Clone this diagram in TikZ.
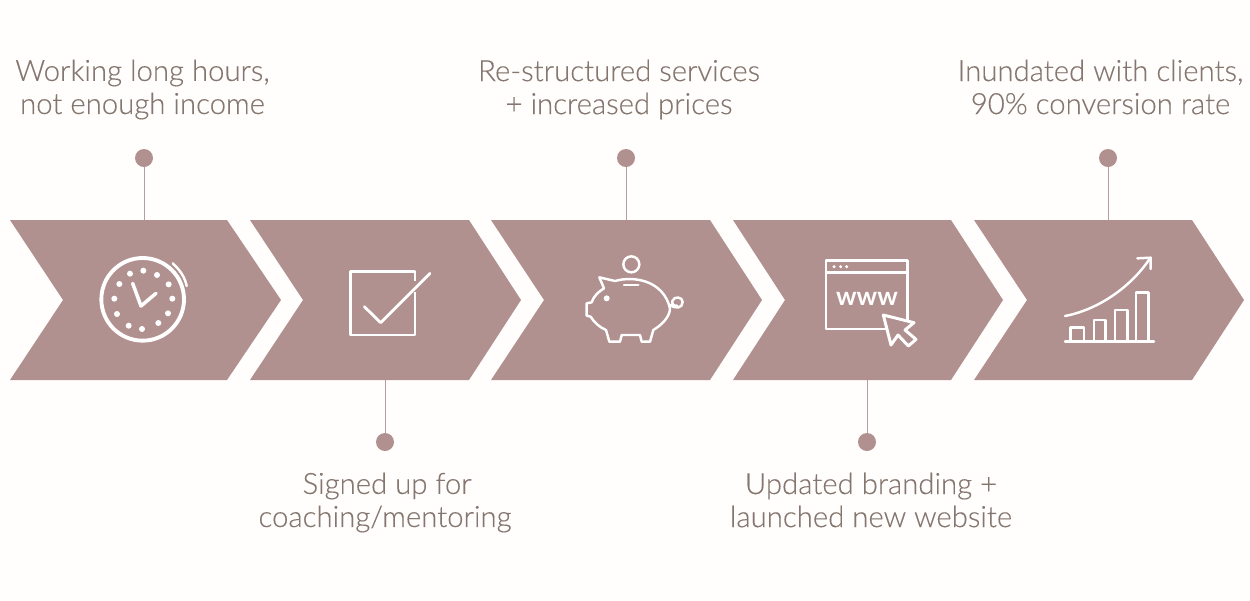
\documentclass[tikz,border=0pt]{standalone}
\usepackage{fontspec}
\setmainfont{Lato}[UprightFont=* Light,FakeBold=0.25]
\newfontfamily\wwwfont{Lato}[UprightFont=* Bold]
\definecolor{chev}{HTML}{B1918F}
\definecolor{txt}{HTML}{85766F}
\definecolor{bgc}{HTML}{FFFEFD}
\definecolor{lnk}{HTML}{B79E9C}
\tikzset{
  x=0.02cm,y=-0.02cm,
  chevron/.style={fill=chev,draw=none},
  dotnode/.style={circle,fill=chev,draw=none,minimum size=0.36cm,inner sep=0pt},
  label/.style={text=txt,align=center,inner sep=0pt,font=\fontsize{16.7}{18.8}\selectfont},
  link/.style={draw=lnk,line width=0.5pt},
  icon/.style={draw=white,line width=1.4pt,line join=round,line cap=round},
  iconthick/.style={draw=white,line width=2pt,line cap=round,line join=round},
  spot/.style={fill=white,draw=none},
}
\begin{document}
\begin{tikzpicture}
\useasboundingbox[fill=bgc] (0,0) rectangle (1250,600);
% chevrons
\fill[chevron] (10,220) -- (227,220) -- (281,300) -- (227,380) -- (10,380) -- (63,300) -- cycle;
\fill[chevron] (250,220) -- (469,220) -- (521,300) -- (469,380) -- (250,380) -- (303,300) -- cycle;
\fill[chevron] (491,220) -- (710,220) -- (762,300) -- (710,380) -- (491,380) -- (544,300) -- cycle;
\fill[chevron] (733,220) -- (951,220) -- (1003,300) -- (951,380) -- (733,380) -- (785,300) -- cycle;
\fill[chevron] (974,220) -- (1192,220) -- (1244,300) -- (1192,380) -- (974,380) -- (1027,300) -- cycle;
\coordinate (c1) at (144,220);
\coordinate (c2) at (385,380);
\coordinate (c3) at (626,220);
\coordinate (c4) at (867,380);
\coordinate (c5) at (1108,220);
% dots
\node[dotnode] (d1) at (144,158) {};
\node[dotnode] (d2) at (385,442) {};
\node[dotnode] (d3) at (626,158) {};
\node[dotnode] (d4) at (867,442) {};
\node[dotnode] (d5) at (1108,158) {};
\draw[link] (d1) -- (c1);
\draw[link] (d2) -- (c2);
\draw[link] (d3) -- (c3);
\draw[link] (d4) -- (c4);
\draw[link] (d5) -- (c5);
% labels
\node[label] (t1) at (142.5,89.5) {Working long hours,\\not enough income};
\node[label] (t2) at (385,502.5) {\hspace*{6\pgflinewidth}Signed up for\\coaching/mentoring};
\node[label] (t3) at (619,89.5) {Re-structured services\\+ increased prices};
\node[label] (t4) at (871,500) {Updated branding +\\launched new website};
\node[label] (t5) at (1100.5,87) {Inundated with clients,\\90\% conversion rate};
% clock
\begin{scope}[shift={(80,240)},scale=1/3]
\draw[iconthick,line width=2.2pt] (188,178) circle (124);
\draw[icon] (278,70) .. controls (300,90) and (315,112) .. (320,138);
\draw[iconthick] (158,130) -- (183,198) -- (228,160);
\foreach \p in {(190,92),(231,105),(266,133),(277,176),(264,220),(235,249),(186,267),(146,257),(111,222),(103,176),(118,132),(150,101)}
  \fill[spot] \p circle (9);
\end{scope}
% check
\begin{scope}[shift={(330,250)},scale=1/3]
\draw[icon,line cap=butt,line width=1.6pt] (255,92) -- (255,65) -- (62,65) -- (62,255) -- (255,255) -- (255,125);
\draw[icon,line width=1.6pt] (103,170) -- (152,218) -- (300,70);
\end{scope}
% piggy
\begin{scope}[shift={(570,245)},scale=1/3]
\draw[icon] (184,58) circle (24);
\draw[icon] (88,97) -- (135,108) .. controls (190,92) and (280,105) .. (300,190)
  .. controls (300,215) and (275,240) .. (250,255) -- (240,290) -- (215,290) -- (210,270) -- (155,270) -- (150,290) -- (118,290) -- (108,255)
  .. controls (90,248) and (72,232) .. (62,215) -- (50,212) -- (50,175) -- (65,172)
  .. controls (70,155) and (85,140) .. (102,130) -- cycle;
\draw[icon] (162,120) -- (205,120);
\fill[spot] (110,160) circle (9);
\draw[icon] (300,180) .. controls (316,192) and (338,190) .. (338,171) .. controls (338,155) and (312,152) .. (307,168) .. controls (305,178) and (312,184) .. (321,182);
\end{scope}
% www
\begin{scope}[shift={(810,250)},scale=1/3]
\draw[icon,line cap=butt] (230,237) -- (48,237) -- (48,32) -- (292,32) -- (292,215);
\draw[icon,line cap=butt] (48,68) -- (292,68);
\foreach \p in {(72,50),(92,50),(110,50)} \fill[spot] \p circle (5);
\node[text=white,inner sep=0pt,font=\wwwfont\fontsize{14.6}{15}\selectfont] (www) at (171,146) {www};
\draw[iconthick,line width=1.7pt] (220,195) -- (312,218) -- (285,240) -- (318,268) -- (295,288) -- (264,255) -- (243,285) -- cycle;
\end{scope}
% chart
\begin{scope}[shift={(1050,245)},scale=1/3]
\draw[icon] (45,290) -- (312,290);
\draw[icon] (62,290) -- (62,248) -- (102,248) -- (102,290);
\draw[icon] (132,290) -- (132,225) -- (167,225) -- (167,290);
\draw[icon] (195,290) -- (195,195) -- (232,195) -- (232,290);
\draw[icon] (258,290) -- (258,143) -- (296,143) -- (296,290);
\draw[icon] (45,213) .. controls (140,195) and (240,130) .. (300,40);
\draw[icon] (262,40) -- (302,38) -- (302,72);
\end{scope}
\end{tikzpicture}
\end{document}
